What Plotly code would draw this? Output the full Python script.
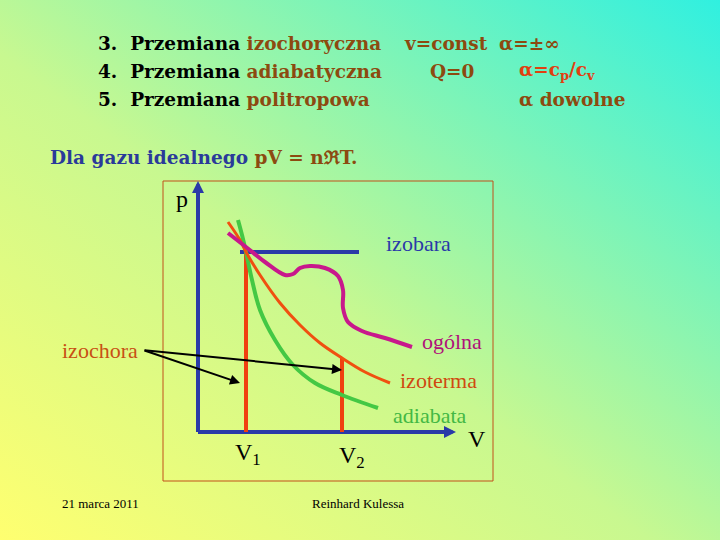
import base64
import plotly.graph_objects as go

W, H = 720, 540

# curves in slide pixel coordinates (x right, y down)
izoterma_x = [228, 240, 246, 260, 280, 300, 320, 342, 365, 390]
izoterma_y = [222, 240, 252, 275, 303, 325, 343, 358, 372, 383]
adiabata_x = [238, 242, 246, 252, 260, 275, 293, 315, 342, 378]
adiabata_y = [220, 235, 252, 280, 310, 340, 365, 383, 395, 408]
ogolna_x = [228, 246, 265, 285, 293, 300, 310, 325, 338, 343, 343, 348, 362, 385, 412]
ogolna_y = [233, 247, 262, 275, 274, 268, 266, 268, 276, 290, 308, 322, 331, 338, 347]
izobara_x = [240, 359]
izobara_y = [252, 252]
v1 = [246, 252]
v2 = [342, 358]
axis_origin = [198, 432]

svg = f"""<svg xmlns='http://www.w3.org/2000/svg' width='{W}' height='{H}'>
<defs><linearGradient id='g' x1='0' y1='1' x2='1' y2='0'>
<stop offset='0' stop-color='#ffff70'/><stop offset='0.45' stop-color='#c8f890'/>
<stop offset='1' stop-color='#30f0e0'/></linearGradient></defs>
<rect width='100%' height='100%' fill='url(#g)'/></svg>"""
src = "data:image/svg+xml;base64," + base64.b64encode(svg.encode()).decode()

fig = go.Figure()

def line(xs, ys, color, width):
    fig.add_trace(go.Scatter(x=xs, y=ys, mode="lines", line=dict(color=color, width=width, shape="spline"),
                             hoverinfo="skip"))

# frame
fig.add_shape(type="rect", x0=163, y0=181, x1=493, y1=481, line=dict(color="#c0501a", width=1))
# axes
ox, oy = axis_origin
line([ox, ox], [oy, 186], "#2a3aa8", 4)
line([ox, 450], [oy, oy], "#2a3aa8", 4)
fig.add_annotation(x=ox, y=181, ax=ox, ay=200, xref="x", yref="y", axref="x", ayref="y", text="",
                   arrowhead=2, arrowsize=0.8, arrowwidth=3, arrowcolor="#2a3aa8")
fig.add_annotation(x=456, y=oy, ax=440, ay=oy, xref="x", yref="y", axref="x", ayref="y", text="",
                   arrowhead=2, arrowsize=0.8, arrowwidth=3, arrowcolor="#2a3aa8")

line(izobara_x, izobara_y, "#2a3aa8", 4)
line([v1[0], v1[0]], [v1[1], oy], "#f04010", 4)
line([v2[0], v2[0]], [v2[1], oy], "#f04010", 4)
line(adiabata_x, adiabata_y, "#44c844", 4)
line(izoterma_x, izoterma_y, "#f05010", 3)
line(ogolna_x, ogolna_y, "#c8188c", 4)

# arrows from izochora label
for tx, ty in [(342, 370), (240, 383)]:
    fig.add_annotation(x=tx, y=ty, ax=143, ay=350, xref="x", yref="y", axref="x", ayref="y", text="",
                       arrowhead=2, arrowsize=1, arrowwidth=2, arrowcolor="black")

serif = "Liberation Serif"
bold_serif = "DejaVu Serif"
brown = "#8c4a10"
def txt(x, y, s, color="black", size=22, bold=False, anchor="left"):
    fig.add_annotation(x=x, y=y, text=s, showarrow=False, xanchor=anchor, yanchor="middle",
                       font=dict(family=bold_serif if bold else serif, size=size, color=color,
                                 weight="bold" if bold else "normal"))

txt(96, 43, f"3.  Przemiana <span style='color:{brown}'>izochoryczna</span>", size=18.5, bold=True)
txt(96, 71, f"4.  Przemiana <span style='color:{brown}'>adiabatyczna</span>", size=18.5, bold=True)
txt(96, 99, f"5.  Przemiana <span style='color:{brown}'>politropowa</span>", size=18.5, bold=True)
txt(402, 43, "v=const", brown, size=18.5, bold=True)
txt(428, 71, "Q=0", brown, size=18.5, bold=True)
txt(497, 43, "α=±∞", brown, size=18.5, bold=True)
txt(517, 71, "α=c<sub>p</sub>/c<sub>v</sub>", "#e04010", size=18.5, bold=True)
txt(517, 99, "α dowolne", brown, size=18.5, bold=True)
txt(48, 157, f"Dla gazu idealnego <span style='color:{brown}'>pV = n\u211cT.</span>", "#2a3a9a",
    size=18.5, bold=True)

txt(174, 199, "p", size=24)
txt(418, 243, "izobara", "#2a3aa8", anchor="center")
txt(452, 341, "ogólna", "#b0107a", anchor="center")
txt(438, 380, "izoterma", "#d04a10", anchor="center")
txt(430, 415, "adiabata", "#44b844", anchor="center")
txt(477, 439, "V", size=24, anchor="center")
txt(248, 454, "V<sub>1</sub>", size=24, anchor="center")
txt(352, 457, "V<sub>2</sub>", size=24, anchor="center")
txt(100, 350, "izochora", "#c85014", anchor="center")
txt(100, 503, "21 marca 2011", size=13, anchor="center")
txt(358, 503, "Reinhard Kulessa", size=13, anchor="center")

fig.update_layout(
    width=W, height=H, margin=dict(l=0, r=0, t=0, b=0), showlegend=False,
    paper_bgcolor="#c8f890", plot_bgcolor="rgba(0,0,0,0)",
    xaxis=dict(range=[0, W], visible=False, fixedrange=True),
    yaxis=dict(range=[H, 0], visible=False, fixedrange=True),
    images=[dict(source=src, xref="paper", yref="paper", x=0, y=1, sizex=1, sizey=1,
                 sizing="stretch", layer="below")],
)

fig.write_html("out.html", config={"displayModeBar": False},
               post_script="document.body.style.margin='0';")
